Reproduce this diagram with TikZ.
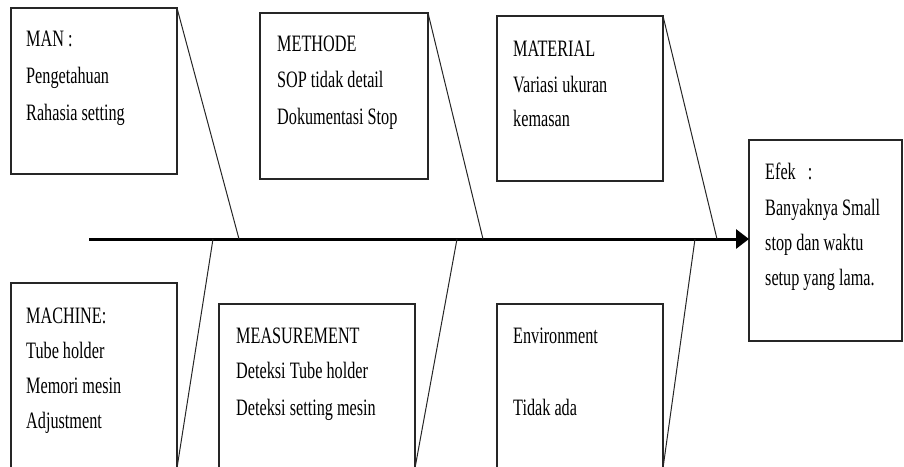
\documentclass[tikz,border=0pt]{standalone}
\usepackage{fontspec}
\setmainfont{Liberation Serif}[FakeStretch=0.69]
\usetikzlibrary{arrows.meta}
\begin{document}
\begin{tikzpicture}[x=1pt,y=-1pt,
  causebox/.style={draw=black!85,line width=1.3pt,inner sep=0pt,outer sep=0pt,anchor=north west},
  bone/.style={draw=black!85,line width=1pt},
  spine/.style={draw=black,line width=3pt,-{Triangle[length=13pt,width=19pt]}},
  txt/.style={anchor=base west,inner sep=0pt,font=\fontsize{23.5}{36}\selectfont}]
\useasboundingbox (0,0) rectangle (904,466);
\clip (0,0) rectangle (904,466);

% cause boxes (top row)
\node[causebox,minimum width=166pt,minimum height=166pt] (man) at (11,8) {};
\node[causebox,minimum width=168pt,minimum height=166pt] (met) at (260,13) {};
\node[causebox,minimum width=166pt,minimum height=165pt] (mat) at (497,16) {};
% cause boxes (bottom row, running past the lower edge)
\node[causebox,minimum width=166pt,minimum height=185pt] (mac) at (11,283) {};
\node[causebox,minimum width=196pt,minimum height=164pt] (mea) at (219,304) {};
\node[causebox,minimum width=166pt,minimum height=164pt] (env) at (497,304) {};
% effect box
\node[causebox,minimum width=153pt,minimum height=201pt] (efek) at (749,140) {};

% spine
\coordinate (head) at (89,239);
\draw[spine] (head) -- (head -| efek.west);

% points where the bones meet the spine
\coordinate (sman) at (239,239);
\coordinate (smet) at (483,239);
\coordinate (smat) at (717,239);
\coordinate (smac) at (213,239);
\coordinate (smea) at (457,239);
\coordinate (senv) at (695,239);

% bones
\draw[bone] (man.north east) -- (sman);
\draw[bone] (met.north east) -- (smet);
\draw[bone] (mat.north east) -- (smat);
\draw[bone] (mac.south east) -- (smac);
\draw[bone] (mea.south east) -- (smea);
\draw[bone] (env.south east) -- (senv);

% texts
\node[txt] (t1a) at (26,46) {MAN :};
\node[txt] (t1b) at (26,83) {Pengetahuan};
\node[txt] (t1c) at (26,120) {Rahasia setting};

\node[txt] (t2a) at (277,51) {METHODE};
\node[txt] (t2b) at (277,87) {SOP tidak detail};
\node[txt] (t2c) at (277,124) {Dokumentasi Stop};

\node[txt] (t3a) at (513,56) {MATERIAL};
\node[txt] (t3b) at (513,92) {Variasi ukuran};
\node[txt] (t3c) at (513,126) {kemasan};

\node[txt] (t4a) at (765,179) {Efek\hspace{12pt}:};
\node[txt] (t4b) at (765,215) {Banyaknya Small};
\node[txt] (t4c) at (765,250) {stop dan waktu};
\node[txt] (t4d) at (765,285) {setup yang lama.};

\node[txt] (t5a) at (26,323) {MACHINE:};
\node[txt] (t5b) at (26,358) {Tube holder};
\node[txt] (t5c) at (26,393) {Memori mesin};
\node[txt] (t5d) at (26,428) {Adjustment};

\node[txt] (t6a) at (236,343) {MEASUREMENT};
\node[txt] (t6b) at (236,378) {Deteksi Tube holder};
\node[txt] (t6c) at (236,415) {Deteksi setting mesin};

\node[txt] (t7a) at (513,343) {Environment};
\node[txt] (t7b) at (513,415) {Tidak ada};
\end{tikzpicture}
\end{document}
